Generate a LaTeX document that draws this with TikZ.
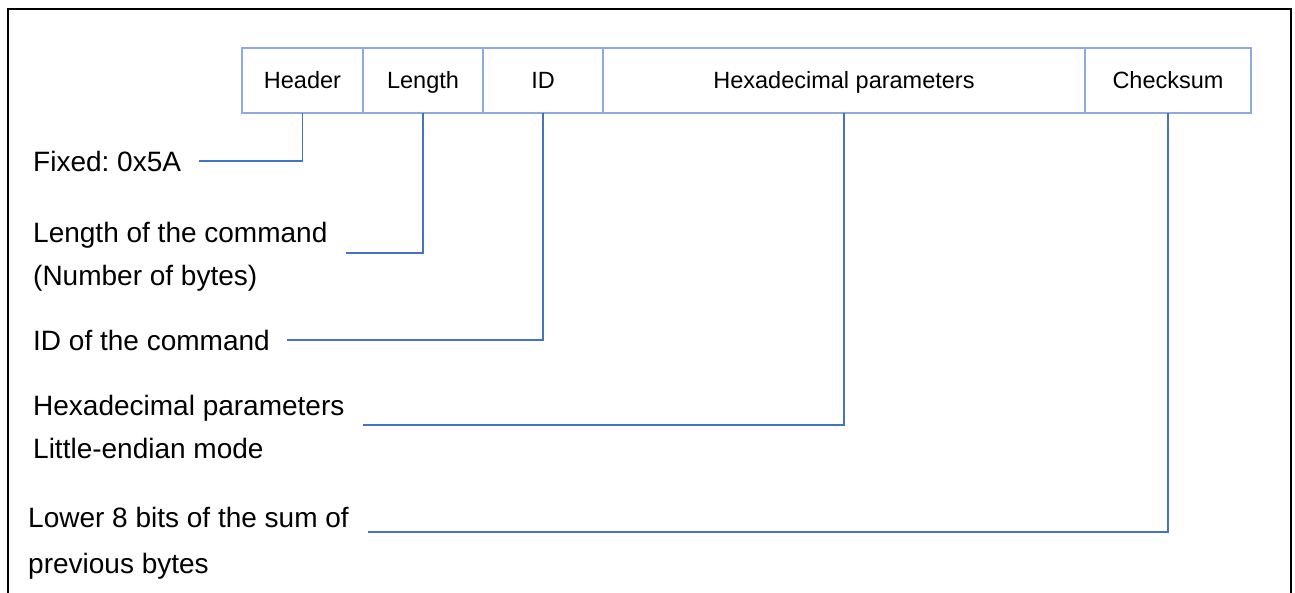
\documentclass[tikz,border=0pt]{standalone}
\usepackage{fontspec}
\setmainfont{Liberation Sans}
\usetikzlibrary{positioning}
\definecolor{fieldblue}{HTML}{8FAADC}
\definecolor{linkblue}{HTML}{4472C4}
\frenchspacing

\begin{document}
\begin{tikzpicture}[x=1pt, y=-1pt, node distance = 0pt,
    field/.style = {draw=fieldblue, line width=2.5pt, minimum height=65pt, outer sep=0pt, inner sep=0pt,
                    text height=16.8pt, text depth=0pt, font=\fontsize{23.5}{27}\selectfont},
    note/.style = {anchor=base west, inner sep=0pt, align=left, font=\fontsize{28}{43}\selectfont},
    link/.style = {draw=linkblue, line width=1.5pt},
    elbow/.style = {to path={|- (\tikztotarget)}}]
   \useasboundingbox (0,0) rectangle (1295,593);
   \draw[line width=2pt] (8,9) rectangle (1291,640);
   % frame fields
   \node[field, minimum width=121pt, anchor=north west] (f_0) at (242,48) {Header};
   \node[field, minimum width=120pt] (f_1) [right = of f_0] {Length};
   \node[field, minimum width=120pt] (f_2) [right = of f_1] {ID};
   \node[field, minimum width=482pt] (f_3) [right = of f_2] {Hexadecimal parameters};
   \node[field, minimum width=166pt] (f_4) [right = of f_3] {Checksum};
   % descriptions (base = last line)
   \node[note] (n_0) at (33,172) {Fixed: 0x5A};
   \node[note] (n_1) at (33,286) {Length of the command\\(Number of bytes)};
   \node[note] (n_2) at (33,351) {ID of the command};
   \node[note] (n_3) at (33,458) {Hexadecimal parameters\\Little-endian mode};
   \node[note, font=\fontsize{28}{46}\selectfont] (n_4) at (28,573) {Lower 8 bits of the sum of\\previous bytes};
   \coordinate (e_0) at (199,161);
   \coordinate (e_1) at (346,253);
   \coordinate (e_2) at (287,340);
   \coordinate (e_3) at (363,425);
   \coordinate (e_4) at (368,532);
   \path[link]
    (f_0) edge[elbow] (e_0)
    (f_1) edge[elbow] (e_1)
    (f_2) edge[elbow] (e_2)
    (f_3) edge[elbow] (e_3)
    (f_4) edge[elbow] (e_4);
\end{tikzpicture}
\end{document}
